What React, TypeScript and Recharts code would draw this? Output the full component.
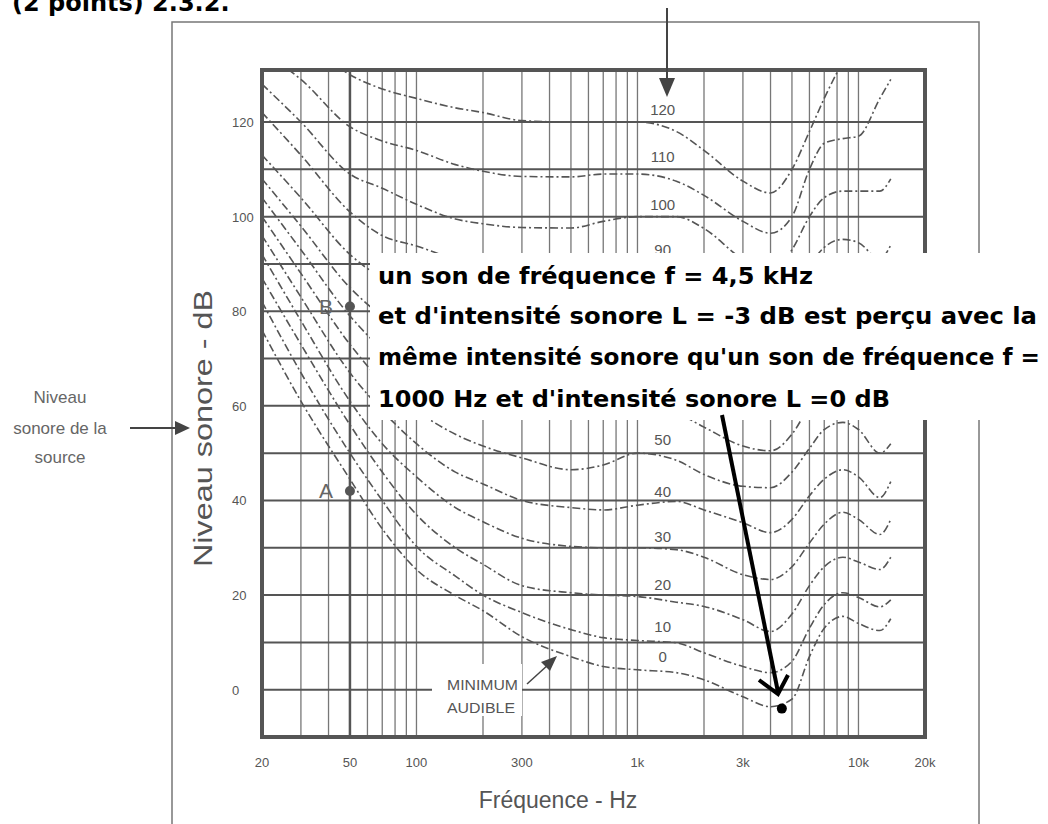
import React from 'react';
import { ComposedChart, Line, XAxis, YAxis, CartesianGrid, ReferenceArea, ReferenceDot, ReferenceLine } from 'recharts';

const FREQS = [20, 30, 50, 70, 100, 150, 200, 300, 500, 700, 1000, 1500, 2000, 3000, 4000, 5000, 6000, 7000, 8500, 10000, 12500, 14000];

// sound level (dB) of each equal-loudness contour at FREQS
const PHON_0 = [76, 61, 44.5, 34, 25.4, 19.9, 16.7, 11.2, 7, 4.9, 4.2, 3.6, 2.1, -1.5, -3.6, -2, 7, 13, 15.5, 14, 12.5, 15];
const PHON_10 = [82, 67, 50, 40, 30.3, 24, 20, 16.3, 12.7, 11, 10.4, 9.9, 7.8, 4.9, 3.6, 6, 13, 18, 20.5, 19.5, 17.5, 19];
const PHON_20 = [87, 73, 56, 46, 37, 30, 26.5, 22, 20.5, 20, 19.7, 18.5, 17.6, 14.8, 12.3, 16, 22, 26, 28, 27, 25.4, 28];
const PHON_30 = [92, 78, 61, 52, 45, 38.5, 35.5, 32, 30.3, 30, 30, 29.6, 28, 24.3, 23.3, 26, 31, 35, 37.5, 36, 32.8, 36];
const PHON_40 = [96, 83, 67, 59, 52, 46, 43.5, 40, 38.5, 38, 39, 39.8, 38, 35.3, 33.2, 36, 41, 44.5, 46.5, 45, 40.6, 44];
const PHON_50 = [100, 88, 73, 65, 59, 54, 51.5, 49, 46.5, 47.5, 50, 48.5, 45.5, 43, 42.7, 46, 51, 55, 56.5, 55, 50, 52];
const PHON_60 = [104, 93, 79, 72, 67, 63, 61.5, 60, 59, 59.5, 60, 58.5, 55.5, 51.5, 50.5, 54, 60, 64.5, 66, 65, 61, 63];
const PHON_70 = [108, 98, 85, 79, 75, 72, 70.5, 69.5, 69, 69.5, 70, 68.5, 65.5, 61, 59.5, 63, 69.5, 73.5, 75.5, 74.5, 71, 74];
const PHON_80 = [113, 104, 92, 87, 84, 81, 80, 79, 78.5, 79, 80, 78.5, 75.5, 70.5, 69, 73, 79.5, 83.5, 85.5, 84.5, 81, 84];
const PHON_90 = [122, 113, 101, 96, 93.8, 91, 89.5, 88.5, 88.5, 89, 90, 88.5, 85.5, 80.5, 79, 83, 89.5, 93.5, 95.2, 94.5, 91, 94];
const PHON_100 = [128, 120, 109, 106, 102.6, 99.5, 98.5, 97.7, 97.6, 99, 100, 100, 97.5, 91, 88.5, 93, 100, 104, 105.4, 105.4, 105.4, 108];
const PHON_110 = [135, 129, 119, 116, 114, 111, 109.6, 108.5, 108.4, 109, 109, 107.5, 104.5, 99, 96.5, 100, 110, 115.5, 116.5, 117, 125, 129];
const PHON_120 = [145, 138, 130, 127, 125, 123, 122, 120.3, 120, 120, 120, 118, 114, 107.5, 105, 110, 118, 125, 133, 140, 148, 155];

const PHONS = [0, 10, 20, 30, 40, 50, 60, 70, 80, 90, 100, 110, 120];
const CURVES = [PHON_0, PHON_10, PHON_20, PHON_30, PHON_40, PHON_50, PHON_60, PHON_70, PHON_80, PHON_90, PHON_100, PHON_110, PHON_120];

// phon numbers printed on the chart (60-80 sit under the note box)
const LABEL_F = 1300;
const LABEL_TEXT = ['0', '10', '20', '30', '40', '50', '90', '100', '110', '120'];
const LABEL_DB = [7, 13.3, 22.2, 32.4, 41.9, 52.9, 93.1, 102.6, 112.6, 122.7];

const GRID_F = [20, 30, 40, 50, 60, 70, 80, 90, 100, 200, 300, 400, 500, 600, 700, 800, 900, 1000, 2000, 3000, 4000, 5000, 6000, 7000, 8000, 9000, 10000, 20000];
const X_LABEL_F = [20, 50, 100, 300, 1000, 3000, 10000, 20000];
const X_LABEL_TEXT = ['20', '50', '100', '300', '1k', '3k', '10k', '20k'];
const Y_TICKS = [0, 10, 20, 30, 40, 50, 60, 70, 80, 90, 100, 110, 120];

const POINT_NAMES = ['A', 'B', ''];
const POINT_F = [50, 50, 4500];
const POINT_L = [42, 81, -4];

const NOTE = [
  'un son de fréquence f = 4,5 kHz',
  "et d'intensité sonore L = -3 dB est perçu avec la",
  "même intensité sonore qu'un son de fréquence f =",
  "1000 Hz et d'intensité sonore L =0 dB",
];
const NOTE_WIDTH = [435, 659, 662, 512];
const NOTE_Y = [284, 324, 365, 407];

const rows = FREQS.map((f, i) => {
  const r: Record<string, number> = { f };
  CURVES.forEach((c, k) => {
    r[`p${PHONS[k]}`] = c[i];
  });
  return r;
});

const XTick = (props: any) => {
  const i = X_LABEL_F.indexOf(props.payload.value);
  if (i < 0) return <g />;
  return (
    <text x={props.x} y={props.y + 22} textAnchor="middle" fontSize={13} fill="#555">
      {X_LABEL_TEXT[i]}
    </text>
  );
};

const YTick = (props: any) => {
  if (props.payload.value % 20 !== 0) return <g />;
  return (
    <text x={props.x - 22} y={props.y + 5} textAnchor="start" fontSize={13} fill="#555">
      {props.payload.value}
    </text>
  );
};

export default function App() {
  return (
    <div style={{ position: 'absolute', left: 0, top: 0, width: 1048, height: 824, background: '#fff', fontFamily: 'Liberation Sans', overflow: 'hidden' }}>
      <ComposedChart width={1048} height={824} data={rows} margin={{ top: 70, right: 123, bottom: 57, left: 212 }}>
        <CartesianGrid horizontal={false} stroke="#777" strokeWidth={1.3} />
        <CartesianGrid vertical={false} stroke="#555" strokeWidth={2} />
        <XAxis
          dataKey="f"
          type="number"
          scale="log"
          domain={[20, 20000]}
          ticks={GRID_F}
          interval={0}
          allowDataOverflow
          axisLine={false}
          tickLine={false}
          height={30}
          tick={<XTick />}
        />
        <YAxis
          type="number"
          domain={[-10, 131]}
          ticks={Y_TICKS}
          interval={0}
          allowDataOverflow
          axisLine={false}
          tickLine={false}
          width={50}
          tick={<YTick />}
        />
        <ReferenceLine x={50} stroke="#555" strokeWidth={2.5} />
        {PHONS.map((p) => (
          <Line
            key={p}
            dataKey={`p${p}`}
            type="monotone"
            stroke="#555"
            strokeWidth={1.6}
            strokeDasharray="8 3 2 3"
            dot={false}
            activeDot={false}
            isAnimationActive={false}
          />
        ))}
        {LABEL_TEXT.map((t, i) => (
          <ReferenceDot
            key={`l${t}`}
            x={LABEL_F}
            y={LABEL_DB[i]}
            r={1}
            fill="none"
            stroke="none"
            label={{ value: t, position: 'center', fill: '#555', fontSize: 15 }}
          />
        ))}
        {POINT_F.map((f, i) => (
          <ReferenceDot
            key={`pt${i}`}
            x={f}
            y={POINT_L[i]}
            r={5}
            fill={POINT_NAMES[i] ? '#555' : '#000'}
            stroke="none"
            label={{ value: POINT_NAMES[i], position: 'left', offset: 12, fill: '#666', fontSize: 21 }}
          />
        ))}
        <ReferenceArea x1={20} x2={20000} y1={-10} y2={131} fill="none" stroke="#555" strokeWidth={4} />
      </ComposedChart>

      <svg width={1048} height={824} style={{ position: 'absolute', left: 0, top: 0, pointerEvents: 'none' }}>
        <text x={12} y={11} fontSize={24} fontWeight="bold" fontFamily="DejaVu Sans" fill="#000">
          (2 points) 2.3.2.
        </text>
        <rect x={172} y={22} width={807} height={830} fill="none" stroke="#777" strokeWidth={1.5} />

        <line x1={667} y1={8} x2={667} y2={80} stroke="#444" strokeWidth={2} />
        <polygon points="659,78 675,78 667,97" fill="#444" />

        <g fontSize={17} fill="#666" textAnchor="middle">
          <text x={60} y={403}>Niveau</text>
          <text x={60} y={434}>sonore de la</text>
          <text x={60} y={463}>source</text>
        </g>
        <line x1={130} y1={428} x2={178} y2={428} stroke="#444" strokeWidth={2} />
        <polygon points="175,421 175,435 190,428" fill="#444" />

        <text
          transform="translate(212,567) rotate(-90)"
          fontSize={25}
          fill="#555"
          textLength={277}
          lengthAdjust="spacingAndGlyphs"
        >
          Niveau sonore - dB
        </text>
        <text x={558} y={808} textAnchor="middle" fontSize={23} fill="#555">
          Fréquence - Hz
        </text>

        <rect x={432} y={664} width={90} height={52} fill="#fff" />
        <g fontSize={14} fill="#555">
          <text x={447} y={690} textLength={71} lengthAdjust="spacingAndGlyphs">MINIMUM</text>
          <text x={447} y={713} textLength={68} lengthAdjust="spacingAndGlyphs">AUDIBLE</text>
        </g>
        <line x1={527} y1={684} x2={549} y2={664} stroke="#444" strokeWidth={1.5} />
        <polygon points="557,656 541,662 550,671" fill="#444" />

        <rect x={370} y={253} width={678} height={167} fill="#fff" />
        <g fontSize={23} fontWeight="bold" fontFamily="DejaVu Sans" fill="#000">
          {NOTE.map((t, i) => (
            <text key={i} x={378} y={NOTE_Y[i]} textLength={NOTE_WIDTH[i]} lengthAdjust="spacingAndGlyphs">
              {t}
            </text>
          ))}
        </g>
        <line x1={722} y1={415} x2={778} y2={692} stroke="#000" strokeWidth={4} />
        <polyline points="759,680 778,694 788,675" fill="none" stroke="#000" strokeWidth={4} />
      </svg>
    </div>
  );
}
